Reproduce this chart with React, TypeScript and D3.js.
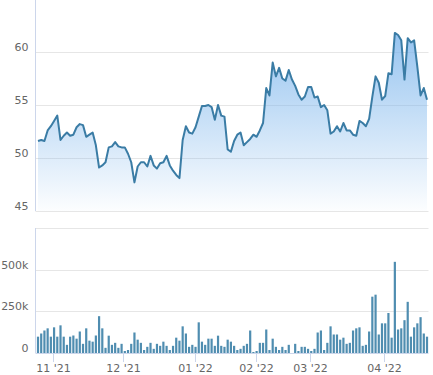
import { useEffect, useRef } from 'react';
import * as d3 from 'd3';

// daily close, oldest first (one value per trading day)
const closes = [
  51.6, 51.7, 51.6, 52.6, 53.0, 53.5, 54.0, 51.7, 52.1, 52.4, 52.1, 52.2, 52.9, 53.2, 53.1, 52.0,
  52.2, 52.4, 51.2, 49.1, 49.3, 49.6, 51.0, 51.1, 51.5, 51.1, 51.0, 51.0, 50.4, 49.6, 47.7, 49.2,
  49.6, 49.6, 49.2, 50.2, 49.3, 49.0, 49.5, 49.6, 50.2, 49.3, 48.8, 48.4, 48.1, 51.7, 53.0, 52.4,
  52.3, 52.9, 53.9, 54.9, 54.9, 55.0, 54.8, 53.6, 55.0, 54.0, 53.9, 50.8, 50.6, 51.6, 52.2, 52.4,
  51.2, 51.5, 51.8, 52.2, 52.0, 52.6, 53.3, 56.6, 55.9, 59.0, 57.7, 58.5, 57.5, 57.3, 58.3, 57.4,
  56.8, 56.0, 55.5, 55.8, 56.7, 56.7, 55.7, 55.8, 54.8, 55.0, 54.5, 52.3, 52.5, 53.0, 52.5, 53.3,
  52.6, 52.6, 52.2, 52.1, 53.5, 53.3, 53.0, 53.7, 55.8, 57.7, 57.1, 55.5, 55.85, 58.0, 57.9, 61.8,
  61.6, 61.1, 57.4, 61.3, 60.9, 61.1, 58.6, 55.9, 56.6, 55.5,
];

// daily volume in thousands
const volumesK = [
  98, 117, 135, 148, 98, 154, 98, 166, 98, 49, 98, 105, 86, 129, 55, 148, 74, 68, 105, 221, 148,
  31, 104, 49, 61, 31, 55, 12, 18, 55, 123, 80, 61, 18, 37, 61, 25, 55, 43, 68, 43,
  18, 43, 92, 74, 160, 117, 37, 49, 37, 184, 68, 49, 86, 86, 43, 104, 43, 37, 80, 68, 43,
  18, 25, 43, 55, 135, 6, 12, 61, 61, 141, 18, 86, 37, 18, 37, 18, 49, 0, 55, 12,
  37, 37, 25, 12, 25, 123, 135, 18, 61, 160, 111, 111, 80, 92, 55, 61, 135, 148, 154, 43, 49,
  129, 338, 350, 111, 178, 178, 240, 92, 547, 141, 148, 197, 307, 98, 154, 178, 215, 117, 98,
];

const monthLabels = ["11 '21", "12 '21", "01 '22", "02 '22", "03 '22", "04 '22"];
// where each month starts, in trading-day index units
const monthAt = [4.76, 26.5, 48.8, 67.9, 84.7, 107.7];

const priceTicks = [45, 50, 55, 60, 65];
const volumeTicks = [0, 250, 500, 750];

const W = 433;
const H = 375;

export default function App() {
  const ref = useRef<SVGSVGElement>(null);

  useEffect(() => {
    if (!ref.current) return;
    const svg = d3.select(ref.current);
    svg.selectAll('*').remove();

    const left = 35.5;
    const right = 428.5;
    const font = 'DejaVu Sans, sans-serif';
    const gridColor = '#e6e6e6';
    const axisColor = '#ccd6eb';

    const x = d3.scaleLinear().domain([0, closes.length - 1]).range([38, 427]);
    const yP = d3.scaleLinear().domain([45, 65]).range([211, -1]);
    const yV = d3.scaleLinear().domain([0, 750]).range([353, 228]);

    const defs = svg.append('defs');
    const grad = defs
      .append('linearGradient')
      .attr('id', 'areaFill')
      .attr('x1', 0)
      .attr('y1', 0)
      .attr('x2', 0)
      .attr('y2', 1);
    grad.append('stop').attr('offset', 0).attr('stop-color', '#7cb5ec').attr('stop-opacity', 0.8);
    grad.append('stop').attr('offset', 1).attr('stop-color', '#7cb5ec').attr('stop-opacity', 0.02);

    // price grid + labels
    const gP = svg.append('g');
    priceTicks.forEach((t) => {
      const y = Math.round(yP(t)) + 0.5;
      gP.append('line').attr('x1', left).attr('x2', right).attr('y1', y).attr('y2', y).attr('stroke', gridColor);
      if (t < 65) {
        gP
          .append('text')
          .attr('x', 28.5)
          .attr('y', y - 2)
          .attr('text-anchor', 'end')
          .attr('font-family', font)
          .attr('font-size', 11)
          .attr('fill', '#666')
          .text(t);
      }
    });
    gP.append('line').attr('x1', left).attr('x2', left).attr('y1', 0).attr('y2', 211).attr('stroke', axisColor);

    const area = d3
      .area<number>()
      .x((_, i) => x(i))
      .y0(yP(45))
      .y1((d) => yP(d));
    const line = d3
      .line<number>()
      .x((_, i) => x(i))
      .y((d) => yP(d));

    svg.append('path').datum(closes).attr('d', area).attr('fill', 'url(#areaFill)');
    svg
      .append('path')
      .datum(closes)
      .attr('d', line)
      .attr('fill', 'none')
      .attr('stroke', '#3a7ca5')
      .attr('stroke-width', 2)
      .attr('stroke-linejoin', 'round');

    // volume grid + labels
    const gV = svg.append('g');
    volumeTicks.forEach((t) => {
      const y = Math.round(yV(t)) + 0.5;
      gV.append('line').attr('x1', left).attr('x2', right).attr('y1', y).attr('y2', y).attr('stroke', t === 0 ? axisColor : gridColor);
      if (t < 750) {
        gV
          .append('text')
          .attr('x', 28.5)
          .attr('y', y - 2)
          .attr('text-anchor', 'end')
          .attr('font-family', font)
          .attr('font-size', 11)
          .attr('fill', '#666')
          .text(t === 0 ? '0' : `${t}k`);
      }
    });
    gV.append('line').attr('x1', left).attr('x2', left).attr('y1', 228).attr('y2', 353).attr('stroke', axisColor);

    svg
      .append('g')
      .selectAll('rect')
      .data(volumesK)
      .enter()
      .append('rect')
      .attr('x', (_, i) => x(i) - 1.1)
      .attr('y', (d) => yV(d))
      .attr('width', 2.2)
      .attr('height', (d) => yV(0) - yV(d))
      .attr('fill', '#4f8db0');

    // month ticks
    const gX = svg.append('g');
    monthAt.forEach((m, i) => {
      const xx = Math.round(x(m)) + 0.5;
      gX.append('line').attr('x1', xx).attr('x2', xx).attr('y1', 353).attr('y2', 362).attr('stroke', axisColor);
      gX
        .append('text')
        .attr('x', xx)
        .attr('y', 372)
        .attr('text-anchor', 'middle')
        .attr('font-family', font)
        .attr('font-size', 11)
        .attr('fill', '#666')
        .text(monthLabels[i]);
    });
  }, []);

  return (
    <svg
      ref={ref}
      width={W}
      height={H}
      style={{ position: 'absolute', left: 0, top: 0 }}
      role="img"
      aria-label="Price and volume chart"
    />
  );
}
